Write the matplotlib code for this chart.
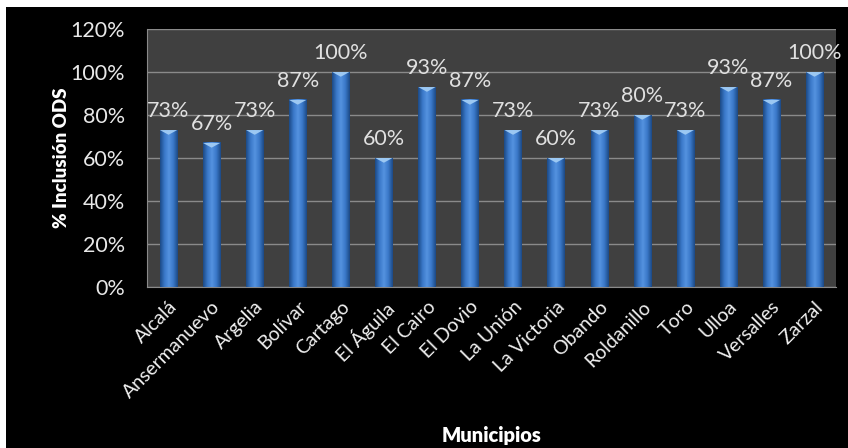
import matplotlib
matplotlib.use("Agg")
import matplotlib.pyplot as plt
import numpy as np
from matplotlib.colors import LinearSegmentedColormap
from matplotlib.patches import Rectangle

municipios = ['Alcalá', 'Ansermanuevo', 'Argelia', 'Bolívar', 'Cartago', 'El Águila',
              'El Cairo', 'El Dovio', 'La Unión', 'La Victoria', 'Obando', 'Roldanillo',
              'Toro', 'Ulloa', 'Versalles', 'Zarzal']
inclusion = [73, 67, 73, 87, 100, 60, 93, 87, 73, 60, 73, 80, 73, 93, 87, 100]
y_ticks = [0, 20, 40, 60, 80, 100, 120]

plt.rcParams['font.family'] = ['Lato', 'DejaVu Sans']

fig = plt.figure(figsize=(8.48, 4.48), dpi=100, facecolor='white')
# black chart area with thin white margin top/left
fig.patches.append(Rectangle((6/848, 0), 1, 1 - 7/448, transform=fig.transFigure,
                             facecolor='black', edgecolor='none', zorder=-10))

ax = fig.add_axes([147/848, 1 - 287/448, (836-147)/848, (287-29)/448])
ax.set_facecolor('#404040')

x = np.arange(len(municipios))
w = 0.4
cmap = LinearSegmentedColormap.from_list('cyl', ['#1c4a86', '#3a78c8', '#5593e0', '#3a78c8', '#1c4a86'])
grad = np.linspace(0, 1, 64).reshape(1, -1)

for xi, v in zip(x, inclusion):
    ax.imshow(grad, extent=[xi - w/2, xi + w/2, 0, v], cmap=cmap, aspect='auto', zorder=3)
    # light cap at the top of each bar
    ax.fill([xi - w/2, xi + w/2, xi], [v, v, v - 2.2], color='#9cc8f2', zorder=4, lw=0)
    ax.text(xi, v + 4, f'{v}%', ha='center', va='bottom', color='#e0e0e0', fontsize=15.5)

ax.set_xlim(-0.5, len(municipios) - 0.5)
ax.set_ylim(0, 120)
ax.set_yticks(y_ticks)
ax.set_yticklabels([f'{t}%' for t in y_ticks], color='#e8e8e8', fontsize=15.5)
ax.yaxis.grid(True, color='#8a8a8a', lw=1)
ax.set_axisbelow(True)
ax.tick_params(axis='y', length=0, pad=16)
ax.set_xticks(x)
ax.set_xticklabels(municipios, rotation=45, ha='right', rotation_mode='anchor',
                   color='#f0f0f0', fontsize=14)
ax.tick_params(axis='x', length=0, pad=8)

for s in ['top', 'right']:
    ax.spines[s].set_visible(False)
ax.spines['left'].set_color('#8a8a8a')
ax.spines['bottom'].set_color('#8a8a8a')

ax.set_ylabel('% Inclusión ODS', color='white', fontsize=13.5, fontweight='heavy')
ax.yaxis.set_label_coords(-0.112, 0.5)
ax.set_xlabel('Municipios', color='white', fontsize=14.5, fontweight='heavy')
ax.xaxis.set_label_coords(0.5, -0.54)

fig.savefig('out.png', dpi=100, facecolor='white')
